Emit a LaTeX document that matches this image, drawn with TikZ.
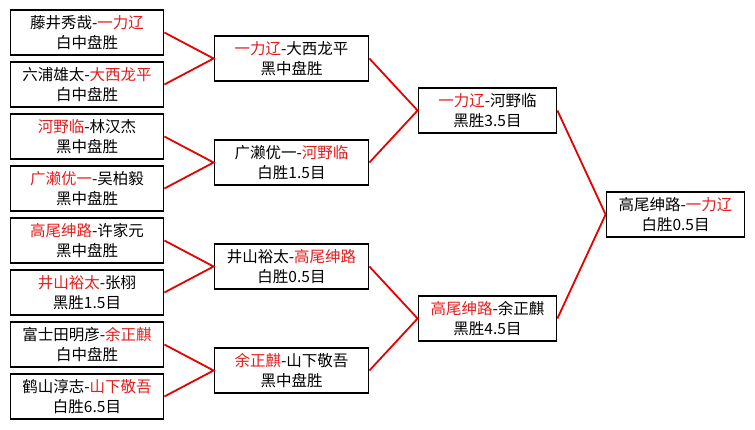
\documentclass[tikz,border=0pt]{standalone}
\usepackage{fontspec}
\setmainfont{Noto Sans CJK SC}
\usepackage{xcolor}
\usepackage{tikz}
\usetikzlibrary{positioning}
\definecolor{winred}{RGB}{228,30,30}
\definecolor{linkred}{RGB}{230,0,0}
\newcommand{\winner}[1]{\textcolor{winred}{#1}}
\tikzset{
  gamebox/.style={
    draw, line width=1.8pt, align=center, fill=white,
    minimum height=45pt, inner sep=0pt,
    font=\fontsize{15.5}{20}\selectfont
  },
  firstbox/.style={gamebox, minimum width=153pt},
  secondbox/.style={gamebox, minimum width=154pt},
  laterbox/.style={gamebox, minimum width=138pt},
  winline/.style={line width=1.8pt, color=linkred},
}

\begin{document}
\begin{tikzpicture}[x=1pt, y=-1pt]
  \useasboundingbox (0,0) rectangle (755,429);
  % first round
  \node[firstbox] (m1) at (87,32.5) {藤井秀哉-\winner{一力辽}\\白中盘胜};
  \node[firstbox] (m2) at (87,84.5) {六浦雄太-\winner{大西龙平}\\白中盘胜};
  \node[firstbox] (m3) at (87,136.5) {\winner{河野临}-林汉杰\\黑中盘胜};
  \node[firstbox] (m4) at (87,188.5) {\winner{广濑优一}-吴柏毅\\黑中盘胜};
  \node[firstbox] (m5) at (87,240.5) {\winner{高尾绅路}-许家元\\黑中盘胜};
  \node[firstbox] (m6) at (87,292.5) {\winner{井山裕太}-张栩\\黑胜1.5目};
  \node[firstbox] (m7) at (87,344.5) {富士田明彦-\winner{余正麒}\\白中盘胜};
  \node[firstbox] (m8) at (87,396.5) {鹤山淳志-\winner{山下敬吾}\\白胜6.5目};
  % quarter finals
  \node[secondbox] (q1) at (291.5,58.5) {\winner{一力辽}-大西龙平\\黑中盘胜};
  \node[secondbox] (q2) at (291.5,162.5) {广濑优一-\winner{河野临}\\白胜1.5目};
  \node[secondbox] (q3) at (291.5,266.5) {井山裕太-\winner{高尾绅路}\\白胜0.5目};
  \node[secondbox] (q4) at (291.5,370.5) {\winner{余正麒}-山下敬吾\\黑中盘胜};
  % semi finals
  \node[laterbox] (s1) at (487.5,110.5) {\winner{一力辽}-河野临\\黑胜3.5目};
  \node[laterbox] (s2) at (487.5,318.5) {\winner{高尾绅路}-余正麒\\黑胜4.5目};
  % final
  \node[laterbox] (fin) at (675.5,214.5) {高尾绅路-\winner{一力辽}\\白胜0.5目};
  % links
  \draw[winline] (m1.east) -- (q1.west) -- (m2.east);
  \draw[winline] (m3.east) -- (q2.west) -- (m4.east);
  \draw[winline] (m5.east) -- (q3.west) -- (m6.east);
  \draw[winline] (m7.east) -- (q4.west) -- (m8.east);
  \draw[winline] (q1.east) -- (s1.west) -- (q2.east);
  \draw[winline] (q3.east) -- (s2.west) -- (q4.east);
  \draw[winline] (s1.east) -- (fin.west) -- (s2.east);
\end{tikzpicture}
\end{document}
